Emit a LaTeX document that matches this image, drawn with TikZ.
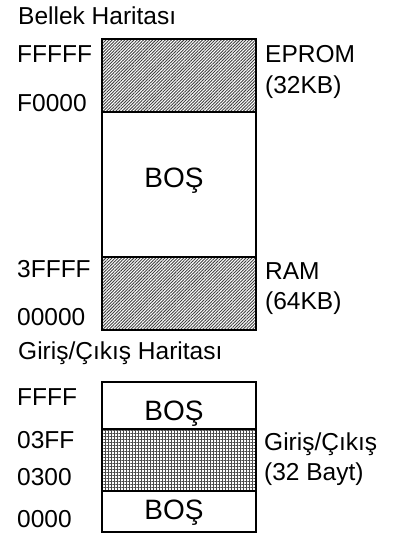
\documentclass[tikz,border=0pt]{standalone}
\usepackage{fontspec}
\setmainfont{Liberation Sans}
\usetikzlibrary{patterns.meta}

\tikzset{
  lbl/.style={anchor=base west, inner sep=0pt, font=\fontsize{24.5}{28}\selectfont},
  mid/.style={anchor=base, inner sep=0pt, font=\fontsize{28}{32}\selectfont},
  romfill/.style={pattern={Lines[angle=45,distance=2.2pt,line width=0.9pt]}, pattern color=black!75},
  iofill/.style={pattern={Hatch[angle=0,distance=3pt,line width=0.7pt]}, pattern color=black!70},
  frame/.style={line width=1.4pt}
}

\begin{document}
\begin{tikzpicture}[x=1pt,y=-1pt]
        \useasboundingbox (0,0) rectangle (398,535);
        % bellek haritasi
        \node[lbl](bellek) at (18,25) {Bellek Haritası};
        \fill[romfill] (102,39) rectangle (256,112);
        \fill[romfill] (102,257) rectangle (256,330);
        \draw[frame] (102,39) rectangle (256,330);
        \draw[frame] (102,112) -- (256,112);
        \draw[frame] (102,257) -- (256,257);
        \node[lbl](fffff) at (17,63) {FFFFF};
        \node[lbl](f0000) at (17,111) {F0000};
        \node[lbl](eprom) at (265,63) {EPROM};
        \node[lbl](eprom2) at (265,93) {(32KB)};
        \node[mid](bos) at (174,187) {BOŞ};
        \node[lbl](3ffff) at (17,277) {3FFFF};
        \node[lbl](00000) at (17,325) {00000};
        \node[lbl](ram) at (265,279) {RAM};
        \node[lbl](ram2) at (265,309) {(64KB)};
        % giris/cikis haritasi
        \node[lbl](gc) at (18,359) {Giriş/Çıkış Haritası};
        \fill[iofill] (102,429) rectangle (256,491);
        \draw[frame] (102,382) rectangle (256,532);
        \draw[frame] (102,429) -- (256,429);
        \draw[frame] (102,491) -- (256,491);
        \node[lbl](ffff) at (17,405) {FFFF};
        \node[mid](bos1) at (174,420) {BOŞ};
        \node[lbl](03ff) at (17,448) {03FF};
        \node[lbl](io) at (264,450) {Giriş/Çıkış};
        \node[lbl](io2) at (264,480) {(32 Bayt)};
        \node[lbl](0300) at (17,485) {0300};
        \node[mid](bos2) at (174,519) {BOŞ};
        \node[lbl](0000) at (17,527) {0000};
\end{tikzpicture}
\end{document}
